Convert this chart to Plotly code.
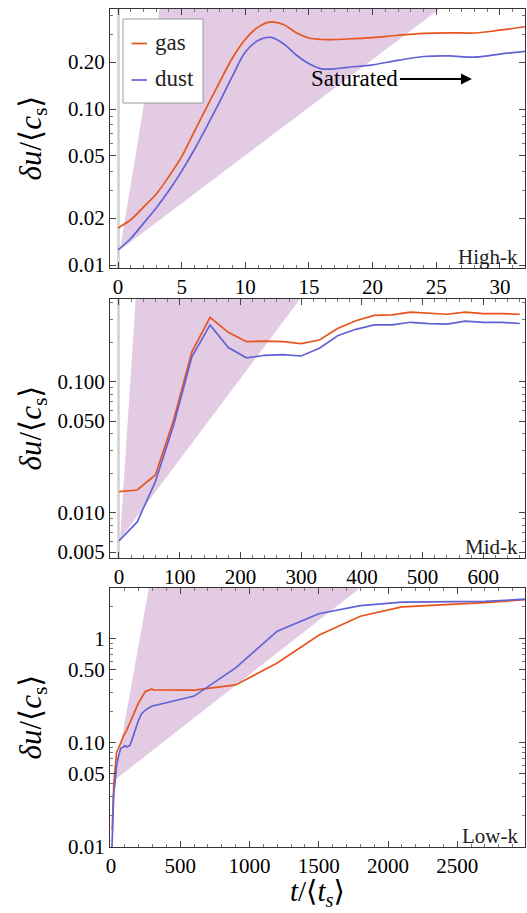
import numpy as np
import plotly.graph_objects as go
from plotly.subplots import make_subplots

# ---------------- data ----------------
# Panel 1: High-k
gas1_t = [0, 1, 2, 3, 4, 5, 6, 7, 8, 9, 10, 11, 12, 13, 14, 15, 16, 17, 18, 20, 22, 24, 26, 28, 30, 32]
gas1_y = [0.0173, 0.0195, 0.0235, 0.0285, 0.037, 0.0495, 0.072, 0.104, 0.15, 0.213, 0.28, 0.335, 0.362, 0.348, 0.308, 0.285, 0.279, 0.279, 0.281, 0.287, 0.297, 0.305, 0.308, 0.307, 0.32, 0.337]
dust1_t = [0, 1, 2, 3, 4, 5, 6, 7, 8, 9, 10, 11, 12, 13, 14, 15, 16, 17, 18, 20, 22, 24, 26, 28, 30, 32]
dust1_y = [0.0125, 0.0148, 0.0185, 0.0232, 0.030, 0.040, 0.055, 0.078, 0.112, 0.163, 0.232, 0.275, 0.288, 0.262, 0.222, 0.195, 0.181, 0.181, 0.185, 0.192, 0.205, 0.217, 0.219, 0.215, 0.225, 0.234]

# Panel 2: Mid-k
t2 = [0, 30, 60, 90, 120, 150, 180, 210, 240, 270, 300, 330, 360, 390, 420, 450, 480, 510, 540, 570, 600, 630, 660]
gas2_y = [0.0145, 0.0149, 0.0194, 0.051, 0.169, 0.31, 0.238, 0.202, 0.204, 0.202, 0.195, 0.208, 0.255, 0.292, 0.321, 0.324, 0.34, 0.334, 0.327, 0.34, 0.331, 0.331, 0.327]
dust2_y = [0.0061, 0.0085, 0.0173, 0.0467, 0.155, 0.271, 0.182, 0.152, 0.159, 0.161, 0.157, 0.18, 0.224, 0.251, 0.271, 0.271, 0.284, 0.277, 0.275, 0.29, 0.284, 0.284, 0.278]

# Panel 3: Low-k
gas3_t = [9, 20, 29, 40, 53, 72, 90, 113, 149, 197, 246, 280, 295, 305, 600, 900, 1200, 1500, 1800, 2100, 2400, 2700, 3000]
gas3_y = [0.0145, 0.040, 0.055, 0.080, 0.0875, 0.101, 0.115, 0.131, 0.170, 0.237, 0.307, 0.324, 0.327, 0.320, 0.318, 0.357, 0.58, 1.07, 1.63, 2.0, 2.1, 2.2, 2.35]
dust3_t = [6, 12, 20, 29, 40, 53, 70, 89, 100, 113, 125, 137, 155, 173, 200, 222, 260, 294, 450, 600, 900, 1200, 1500, 1800, 2100, 2400, 2700, 3000]
dust3_y = [0.009, 0.02, 0.033, 0.041, 0.060, 0.073, 0.088, 0.0907, 0.093, 0.0907, 0.092, 0.094, 0.11, 0.131, 0.165, 0.19, 0.21, 0.223, 0.25, 0.279, 0.52, 1.17, 1.72, 2.06, 2.23, 2.24, 2.26, 2.38]

# growth-rate wedges (vertex and log10 growth rates per unit time)
wedge_t0 = [0.15, 1.8, 24]
wedge_y0 = [0.0125, 0.0063, 0.0434]
wedge_rate_fast = [0.495, 0.0713, 0.0074]
wedge_rate_slow = [0.0615, 0.00618, 0.00104]

# axes
x_ranges = [[-0.63, 31.97], [-14.8, 668.6], [-7.2, 2989]]
y_ranges = [[-2.019, -0.359], [-2.346, -0.369], [-2.003, 0.483]]
x_ticks = [[0, 5, 10, 15, 20, 25, 30], [0, 100, 200, 300, 400, 500, 600], [0, 500, 1000, 1500, 2000, 2500]]
x_minor = [1, 20, 100]
y_tickvals = [[0.01, 0.02, 0.05, 0.1, 0.2], [0.005, 0.01, 0.05, 0.1], [0.01, 0.05, 0.1, 0.5, 1]]
y_ticktext = [["0.01", "0.02", "0.05", "0.10", "0.20"], ["0.005", "0.010", "0.050", "0.100"], ["0.01", "0.05", "0.10", "0.50", "1"]]
panel_labels = ["High-k", "Mid-k", "Low-k"]

GAS = "rgb(232,84,30)"
DUST = "rgb(98,98,212)"
WEDGE = "rgb(226,203,227)"
FONT = "Liberation Serif, Times New Roman, Times, DejaVu Serif, serif"

# layout geometry (pixels)
W, H = 527, 913
ML, MR, MT, MB = 110, 2, 9, 66
panel_px = [(9, 268), (299, 558), (588, 847)]
PW = W - ML - MR
PH = H - MT - MB


def py2paper(py):
    return (H - MB - py) / PH


def px2paper(px):
    return (px - ML) / PW


fig = make_subplots(rows=3, cols=1)

series = [
    (gas1_t, gas1_y, dust1_t, dust1_y, "spline"),
    (t2, gas2_y, t2, dust2_y, "linear"),
    (gas3_t, gas3_y, dust3_t, dust3_y, "linear"),
]

for i in range(3):
    row = i + 1
    # wedge polygon (extends above plot top; clipped by the axes)
    ceil = y_ranges[i][1] + 0.6
    lv = np.log10(wedge_y0[i])
    tf = wedge_t0[i] + (ceil - lv) / wedge_rate_fast[i]
    ts = wedge_t0[i] + (ceil - lv) / wedge_rate_slow[i]
    fig.add_trace(go.Scatter(
        x=[wedge_t0[i], tf, ts, wedge_t0[i]],
        y=[wedge_y0[i], 10 ** ceil, 10 ** ceil, wedge_y0[i]],
        fill="toself", fillcolor=WEDGE, line=dict(width=0), mode="lines",
        hoverinfo="skip", showlegend=False), row=row, col=1)
    gt, gy, dt, dy, shape = series[i]
    fig.add_trace(go.Scatter(x=gt, y=gy, mode="lines", name="gas",
                             line=dict(color=GAS, width=1.7, shape=shape),
                             showlegend=False), row=row, col=1)
    fig.add_trace(go.Scatter(x=dt, y=dy, mode="lines", name="dust",
                             line=dict(color=DUST, width=1.7, shape=shape),
                             showlegend=False), row=row, col=1)

    top, bot = panel_px[i]
    dom = [py2paper(bot), py2paper(top)]
    xname = "xaxis" if i == 0 else f"xaxis{row}"
    yname = "yaxis" if i == 0 else f"yaxis{row}"
    fig.layout[xname].update(
        domain=[0, 1], range=x_ranges[i], tickmode="array", tickvals=x_ticks[i],
        ticks="inside", ticklen=6, tickwidth=1, tickcolor="#444",
        showline=True, linecolor="#333", linewidth=1.3, mirror="ticks",
        showgrid=False, zeroline=True, zerolinecolor="#d8d8d8", zerolinewidth=2.5,
        tickfont=dict(family=FONT, size=21, color="black"),
        minor=dict(ticks="inside", ticklen=3, dtick=x_minor[i], tickcolor="#777", tickwidth=1),
    )
    ymin_dec = int(np.floor(y_ranges[i][0]))
    ymax_dec = int(np.ceil(y_ranges[i][1]))
    minor_vals = [m * 10.0 ** d for d in range(ymin_dec, ymax_dec + 1) for m in range(1, 10)]
    minor_vals = [v for v in minor_vals if all(abs(v - tv) > 1e-12 for tv in y_tickvals[i])]
    fig.layout[yname].update(
        domain=dom, type="log", range=y_ranges[i], tickmode="array",
        tickvals=y_tickvals[i], ticktext=y_ticktext[i],
        ticks="inside", ticklen=6, tickwidth=1, tickcolor="#444",
        showline=True, linecolor="#333", linewidth=1.3, mirror="ticks",
        showgrid=False, zeroline=False,
        tickfont=dict(family=FONT, size=21, color="black"),
        minor=dict(ticks="inside", ticklen=3, tickmode="array", tickvals=minor_vals,
                   tickcolor="#777", tickwidth=1),
    )
    # y-axis title
    fig.add_annotation(
        xref="paper", yref="paper", x=px2paper(32), y=(dom[0] + dom[1]) / 2,
        text="<i>δu</i>/⟨<i>c</i><sub>s</sub>⟩", textangle=-90, showarrow=False,
        font=dict(family=FONT, size=31, color="black"), xanchor="center", yanchor="middle")
    # panel label
    fig.add_annotation(
        xref="paper", yref="paper", x=px2paper(520), y=py2paper(bot - 11),
        text=panel_labels[i], showarrow=False, xanchor="right", yanchor="middle",
        font=dict(family=FONT, size=21, color="#222"))

# x-axis title
fig.add_annotation(
    xref="paper", yref="paper", x=px2paper(317), y=py2paper(893),
    text="<i>t</i>/⟨<i>t</i><sub><i>s</i></sub>⟩", showarrow=False,
    xanchor="center", yanchor="middle", font=dict(family=FONT, size=29, color="black"))

# "Saturated" arrow in panel 1
fig.add_annotation(
    xref="x", yref="y", x=27.8, y=np.log10(0.156), ax=-117, ay=0,
    text="Saturated", showarrow=True, arrowhead=2, arrowsize=1.1, arrowwidth=2,
    arrowcolor="black", font=dict(family=FONT, size=23, color="black"), standoff=0,
    startstandoff=0)

# legend (panel 1)
fig.add_shape(type="rect", xref="paper", yref="paper",
              x0=px2paper(123), x1=px2paper(203), y0=py2paper(103), y1=py2paper(19),
              line=dict(color="#9a9a9a", width=1), fillcolor="white", layer="above")
legend_items = [("gas", GAS, 42.5), ("dust", DUST, 79)]
for name, col, ypx in legend_items:
    fig.add_shape(type="line", xref="paper", yref="paper",
                  x0=px2paper(131.5), x1=px2paper(147), y0=py2paper(ypx + 1), y1=py2paper(ypx + 1),
                  line=dict(color=col, width=1.7), layer="above")
    fig.add_annotation(xref="paper", yref="paper", x=px2paper(153), y=py2paper(ypx),
                       text=name, showarrow=False, xanchor="left", yanchor="middle",
                       font=dict(family=FONT, size=23, color="#222"))

fig.update_layout(
    width=W, height=H, margin=dict(l=ML, r=MR, t=MT, b=MB),
    paper_bgcolor="white", plot_bgcolor="white", showlegend=False,
    font=dict(family=FONT, color="black"),
)

fig.write_html("out.html", config={"displayModeBar": False},
               post_script="document.body.style.margin='0';document.body.style.overflow='hidden';")
